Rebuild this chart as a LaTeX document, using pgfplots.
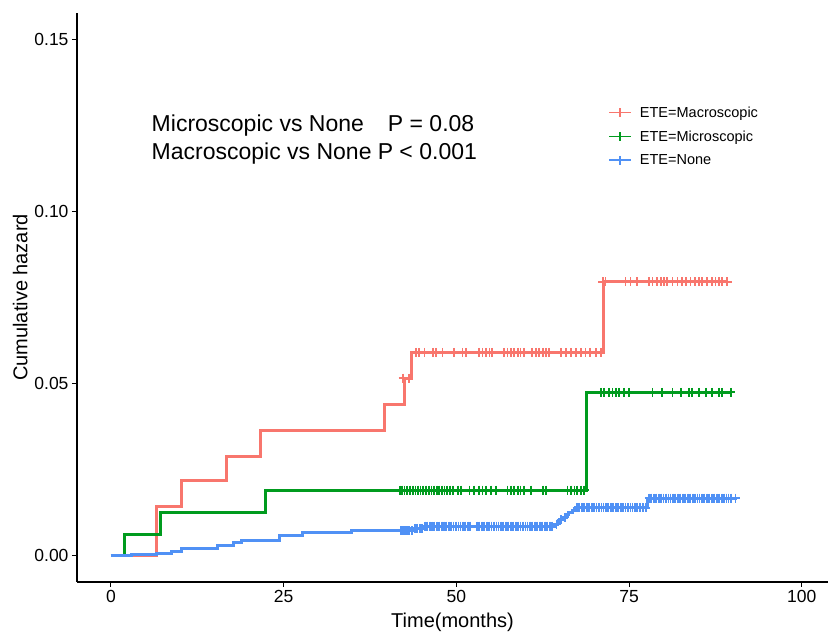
\documentclass[border=0pt]{standalone}
\usepackage{fontspec}
\setmainfont{Liberation Sans}
\usepackage{pgfplots}
\pgfplotsset{compat=1.18}

\definecolor{cMacro}{RGB}{248,118,109}
\definecolor{cMicro}{RGB}{0,155,30}
\definecolor{cNone}{RGB}{80,145,245}

% step curves (value holds to the right until the next time point)
\pgfplotstableread{
t h
0 0
6.6 0.0142
10.2 0.0219
16.7 0.0289
21.7 0.0362
39.6 0.0439
42.5 0.0515
43.5 0.0590
71.3 0.0795
89.2 0.0795
}\macro

\pgfplotstableread{
t h
0 0
2.0 0.0062
7.2 0.0126
22.4 0.0190
68.9 0.0474
89.9 0.0474
}\micro

\pgfplotstableread{
t h
0 0
3.0 0.0003
6.6 0.0006
8.8 0.0013
10.2 0.0021
15.5 0.0030
17.7 0.0037
18.9 0.0045
24.4 0.0058
27.8 0.0066
34.8 0.0072
43.9 0.0079
45.3 0.0085
64.2 0.0091
64.6 0.0097
65.0 0.0104
65.5 0.0111
65.9 0.0118
66.3 0.0124
66.8 0.0131
67.3 0.0138
77.7 0.0167
90.6 0.0167
}\none

\begin{document}
\begin{tikzpicture}
\begin{axis}[
    at={(0,0)}, anchor=south west,
    scale only axis,
    width=751bp, height=569bp,
    xmin=-4.91, xmax=103.8,
    ymin=-0.0077, ymax=0.1576,
    axis lines=left,
    axis line style={-, line width=1.3bp},
    tick align=outside,
    major tick length=5bp,
    tick style={line width=1bp, black},
    xtick={0,25,50,75,100},
    ytick={0,0.05,0.10,0.15},
    yticklabel style={/pgf/number format/.cd, fixed, fixed zerofill, precision=2},
    /pgf/number format/assume math mode=true,
    ticklabel style={font=\fontsize{17.5bp}{20bp}\selectfont},
    xlabel={Time(months)},
    ylabel={Cumulative hazard},
    label style={font=\fontsize{20bp}{24bp}\selectfont},
    xlabel style={yshift=-3bp},
    clip=false,
    legend cell align=left,
    legend style={at={(0.703,0.843)}, anchor=north west, draw=none, fill=none,
        font=\fontsize{14.5bp}{17bp}\selectfont, row sep=8bp, column sep=6bp,
        nodes={inner sep=2bp}},
    legend image code/.code={\draw[mark repeat=2,mark phase=2,#1]
        plot coordinates {(0bp,0bp) (11bp,0bp) (22bp,0bp)};},
]

% curves
\addplot[cMacro, line width=3bp, const plot, forget plot] table {\macro};
\addplot[cMicro, line width=3bp, const plot, forget plot] table {\micro};
\addplot[cNone, line width=3bp, const plot, forget plot] table {\none};

% censor marks
\addplot[cMacro, only marks, mark=+, mark size=4.5bp, line width=1.8bp, forget plot]
coordinates {
(42.3,0.0515) (43.1,0.0515)
(44.2,0.0590) (44.65,0.0590) (45.4,0.0590) (46.6,0.0590) (47.1,0.0590) (48.0,0.0590)
(49.7,0.0590) (50.9,0.0590) (51.4,0.0590) (53.3,0.0590) (53.8,0.0590) (54.3,0.0590)
(54.8,0.0590) (55.2,0.0590) (56.9,0.0590) (57.4,0.0590) (57.9,0.0590) (58.4,0.0590)
(58.9,0.0590) (59.3,0.0590) (59.8,0.0590) (61.0,0.0590) (61.5,0.0590) (62.0,0.0590)
(62.5,0.0590) (63.0,0.0590) (63.4,0.0590) (65.1,0.0590) (65.9,0.0590) (66.6,0.0590)
(67.3,0.0590) (68.0,0.0590) (68.7,0.0590) (69.4,0.0590) (70.2,0.0590) (70.9,0.0590)
(71.2,0.0795) (71.6,0.0795) (74.5,0.0795) (75.2,0.0795) (76.2,0.0795) (77.9,0.0795)
(78.4,0.0795) (79.1,0.0795) (79.6,0.0795) (80.1,0.0795) (80.5,0.0795) (81.3,0.0795)
(82.0,0.0795) (82.7,0.0795) (83.2,0.0795) (83.9,0.0795) (84.6,0.0795) (85.1,0.0795)
(85.6,0.0795) (86.3,0.0795) (87.0,0.0795) (87.5,0.0795) (88.0,0.0795) (88.5,0.0795)
(89.2,0.0795)
};
\addplot[cMicro, only marks, mark=+, mark size=4.5bp, line width=1.8bp, forget plot]
coordinates {
(41.8,0.0190) (42.15,0.0190) (42.5,0.0190) (42.9,0.0190) (43.3,0.0190) (43.7,0.0190)
(44.1,0.0190) (44.5,0.0190) (44.8,0.0190) (45.2,0.0190) (45.6,0.0190) (46.0,0.0190)
(46.4,0.0190) (46.8,0.0190) (47.2,0.0190) (47.5,0.0190) (47.9,0.0190) (48.3,0.0190)
(48.7,0.0190) (49.1,0.0190) (49.5,0.0190) (50.2,0.0190) (50.7,0.0190) (51.9,0.0190)
(52.6,0.0190) (53.3,0.0190) (53.8,0.0190) (54.3,0.0190) (55.0,0.0190) (55.7,0.0190)
(57.4,0.0190) (57.9,0.0190) (58.4,0.0190) (58.9,0.0190) (59.3,0.0190) (59.8,0.0190)
(60.8,0.0190) (62.5,0.0190) (63.0,0.0190) (66.1,0.0190) (66.6,0.0190) (67.1,0.0190)
(67.5,0.0190) (68.0,0.0190) (68.5,0.0190)
(70.9,0.0474) (71.4,0.0474) (72.1,0.0474) (72.6,0.0474) (73.1,0.0474) (73.6,0.0474)
(74.3,0.0474) (75.0,0.0474) (78.4,0.0474) (79.8,0.0474) (81.3,0.0474) (82.5,0.0474)
(83.7,0.0474) (84.1,0.0474) (85.1,0.0474) (86.1,0.0474) (87.0,0.0474) (88.0,0.0474)
(88.5,0.0474) (89.7,0.0474)
};
\addplot[cNone, only marks, mark=+, mark size=4.5bp, line width=1.8bp, forget plot]
coordinates {
(42.0,0.0072) (42.3,0.0072) (42.6,0.0072) (42.9,0.0072) (43.2,0.0072) (43.6,0.0072)
(44.0,0.0079) (44.3,0.0079) (44.7,0.0079) (45.0,0.0079)
(45.5,0.0085) (45.8,0.0085) (46.2,0.0085) (46.5,0.0085) (46.8,0.0085) (47.2,0.0085)
(47.5,0.0085) (47.9,0.0085) (48.2,0.0085) (48.5,0.0085) (48.9,0.0085) (49.2,0.0085)
(49.6,0.0085) (49.9,0.0085) (50.3,0.0085) (50.6,0.0085) (51.0,0.0085) (51.3,0.0085)
(51.7,0.0085) (52.0,0.0085) (53.0,0.0085) (53.3,0.0085) (53.7,0.0085) (54.0,0.0085)
(54.4,0.0085) (54.7,0.0085) (55.1,0.0085) (55.4,0.0085) (55.8,0.0085) (56.1,0.0085)
(56.5,0.0085) (56.8,0.0085) (57.2,0.0085) (57.5,0.0085) (57.9,0.0085) (58.2,0.0085)
(58.6,0.0085) (58.9,0.0085) (59.3,0.0085) (59.6,0.0085) (60.0,0.0085) (60.3,0.0085)
(60.7,0.0085) (61.0,0.0085) (61.4,0.0085) (61.7,0.0085) (62.1,0.0085) (62.4,0.0085)
(62.8,0.0085) (63.1,0.0085) (63.5,0.0085) (63.9,0.0085)
(64.5,0.0091) (65.2,0.0104) (65.7,0.0111)
(67.5,0.0138) (67.8,0.0138) (68.2,0.0138) (68.5,0.0138) (68.9,0.0138) (69.2,0.0138)
(69.6,0.0138) (69.9,0.0138) (70.3,0.0138) (70.6,0.0138) (71.0,0.0138) (71.3,0.0138)
(71.7,0.0138) (72.0,0.0138) (72.4,0.0138) (72.7,0.0138) (73.1,0.0138) (73.4,0.0138)
(73.8,0.0138) (74.1,0.0138) (74.5,0.0138) (74.8,0.0138) (75.2,0.0138) (75.5,0.0138)
(75.9,0.0138) (76.2,0.0138) (76.6,0.0138) (77.0,0.0138) (77.4,0.0138)
(77.9,0.0167) (78.2,0.0167) (78.6,0.0167) (78.9,0.0167) (79.3,0.0167) (79.6,0.0167)
(80.0,0.0167) (80.3,0.0167) (80.7,0.0167) (81.0,0.0167) (81.4,0.0167) (81.7,0.0167)
(82.1,0.0167) (82.4,0.0167) (82.8,0.0167) (83.1,0.0167) (83.5,0.0167) (83.8,0.0167)
(84.2,0.0167) (84.5,0.0167) (84.9,0.0167) (85.2,0.0167) (85.6,0.0167) (85.9,0.0167)
(86.3,0.0167) (86.6,0.0167) (87.0,0.0167) (87.3,0.0167) (87.7,0.0167) (88.0,0.0167)
(88.4,0.0167) (88.7,0.0167) (89.1,0.0167) (89.4,0.0167) (89.8,0.0167) (90.4,0.0167)
};

% legend entries
\addlegendimage{cMacro, line width=1.8bp, mark=+, mark size=4.5bp}
\addlegendentry{ETE=Macroscopic}
\addlegendimage{cMicro, line width=1.8bp, mark=+, mark size=4.5bp}
\addlegendentry{ETE=Microscopic}
\addlegendimage{cNone, line width=1.8bp, mark=+, mark size=4.5bp}
\addlegendentry{ETE=None}

% test annotation
\node[anchor=base west, inner sep=0pt, font=\fontsize{23bp}{28bp}\selectfont]
    at (axis cs:5.88,0.1233) {Microscopic vs None};
\node[anchor=base west, inner sep=0pt, font=\fontsize{23bp}{28bp}\selectfont]
    at (axis cs:40.07,0.1233) {P = 0.08};
\node[anchor=base west, inner sep=0pt, font=\fontsize{23bp}{28bp}\selectfont]
    at (axis cs:5.88,0.1149) {Macroscopic vs None};
\node[anchor=base west, inner sep=0pt, font=\fontsize{23bp}{28bp}\selectfont]
    at (axis cs:38.6,0.1149) {P < 0.001};
\end{axis}
\path[use as bounding box] (-77bp,-46bp) rectangle (752bp,582bp);
\end{tikzpicture}
\end{document}
